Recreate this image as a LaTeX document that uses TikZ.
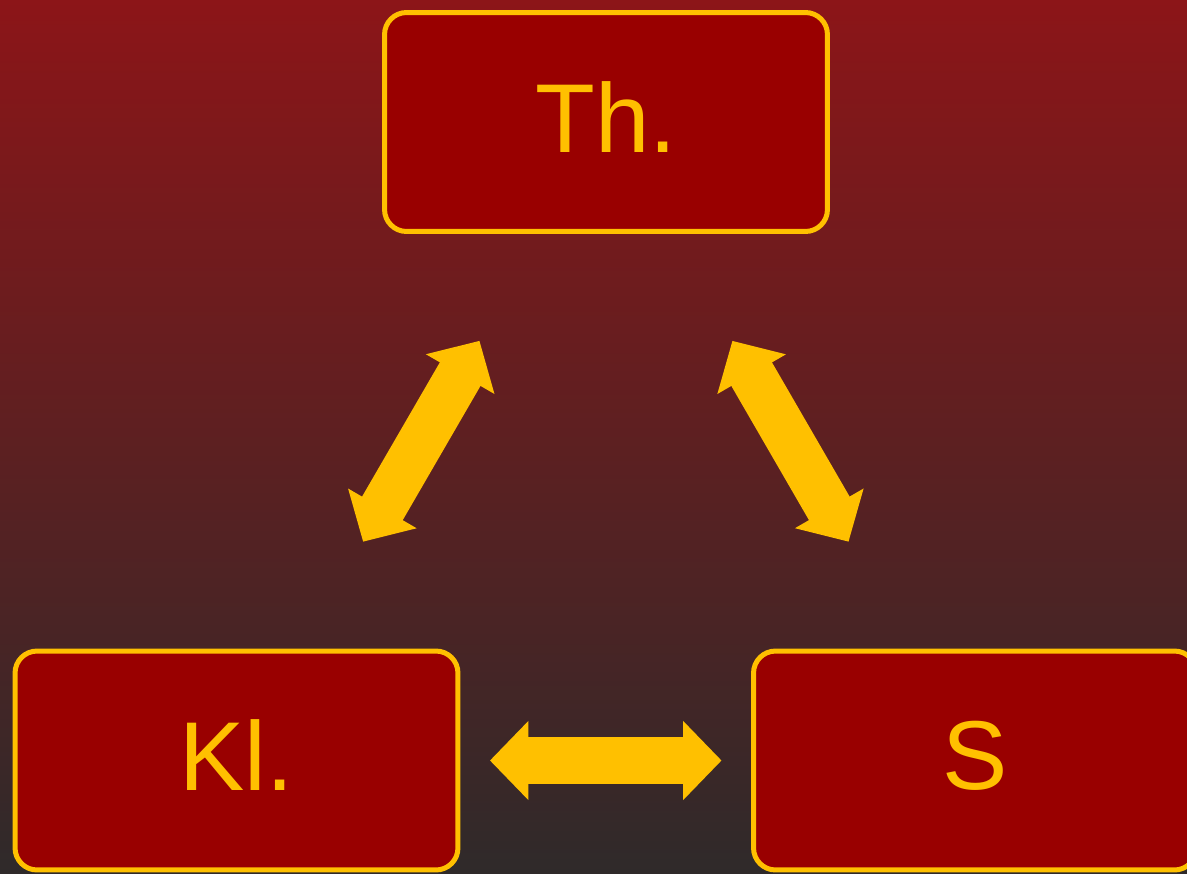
\documentclass[tikz,border=0pt]{standalone}
\usepackage{fontspec}
\setmainfont{Liberation Sans}
\usetikzlibrary{arrows.meta}

\definecolor{bgtop}{RGB}{140,21,24}
\definecolor{bgbottom}{RGB}{47,42,42}
\definecolor{boxred}{RGB}{153,0,0}
\definecolor{gold}{RGB}{255,192,0}

\tikzset{
  block/.style={draw=gold, fill=boxred, line width=0.1cm, rounded corners=0.44cm,
    minimum width=8.86cm, minimum height=4.38cm, text=gold, text depth=0.2cm,
    font=\fontsize{55.7}{60}\selectfont},
  link/.style={draw=gold, line width=0.94cm,
    {Triangle[length=0.77cm,width=1.54cm]}-{Triangle[length=0.77cm,width=1.54cm]}}
}

\begin{document}
\begin{tikzpicture}[x=0.02cm, y=-0.02cm]

    % background
    \useasboundingbox (0,0) rectangle (1187,873);
    \clip (0,0) rectangle (1187,873);
    \shade[top color=bgtop, bottom color=bgbottom] (0,0) rectangle (1187,873);

    % boxes
    \node[block] (th) at (606,122) {Th.};
    \node[block] (kl) at (236.5,760.5) {Kl.};
    \node[block] (s) at (975,760.5) {S};

    % arrows
    \draw[link, shorten <=2.47cm, shorten >=2.47cm] (th) -- (kl);
    \draw[link, shorten <=2.47cm, shorten >=2.47cm] (th) -- (s);
    \draw[link, shorten <=0.59cm, shorten >=0.59cm] (kl) -- (s);
\end{tikzpicture}
\end{document}
